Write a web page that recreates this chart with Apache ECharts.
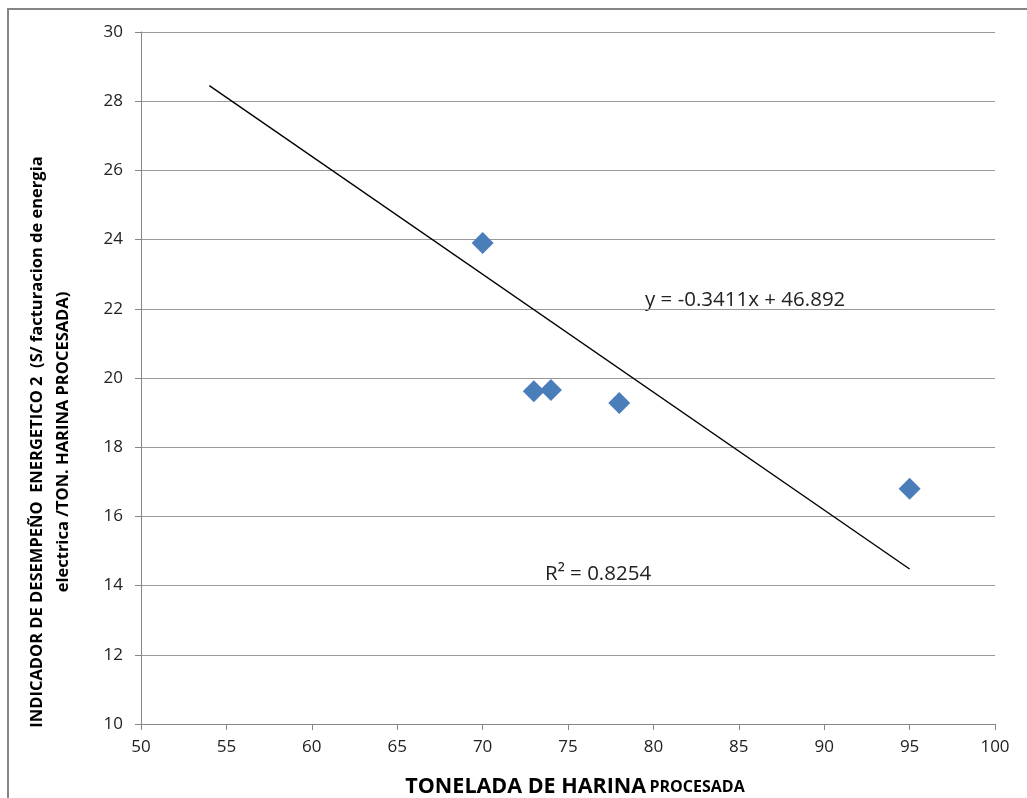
<!DOCTYPE html>
<html>
<head>
<meta charset="utf-8">
<script src="https://cdn.jsdelivr.net/npm/echarts@6/dist/echarts.min.js"></script>
<style>html,body{margin:0;padding:0;background:#fff}#c{width:1027px;height:798px}</style>
</head>
<body>
<div id="c"></div>
<script>
const xValues = [70, 73, 74, 78, 95];
const yValues = [23.9, 19.62, 19.65, 19.28, 16.8];
const trendX = [54, 95];
const trendY = [28.45, 14.48];
const xTicks = [50, 55, 60, 65, 70, 75, 80, 85, 90, 95, 100];
const yTicks = [10, 12, 14, 16, 18, 20, 22, 24, 26, 28, 30];
const equationText = 'y = -0.3411x + 46.892';
const r2Text = 'R² = 0.8254';
const yTitle1 = 'INDICADOR DE DESEMPEÑO  ENERGETICO 2  (S/ facturacion de energia';
const yTitle2 = 'electrica /TON. HARINA PROCESADA)';

const font = '"Open Sans", "Liberation Sans", sans-serif';
const chart = echarts.init(document.getElementById('c'), null, {renderer: 'canvas'});
chart.setOption({
  animation: false,
  backgroundColor: '#fff',
  grid: {left: 141, right: 32, top: 32, bottom: 74},
  xAxis: {
    type: 'value', min: xTicks[0], max: xTicks[xTicks.length - 1], interval: 5,
    axisLine: {lineStyle: {color: '#868686', width: 1}},
    axisTick: {show: true, length: 6, lineStyle: {color: '#868686'}},
    axisLabel: {color: '#222', fontSize: 17, fontFamily: font, margin: 15},
    splitLine: {show: false}
  },
  yAxis: {
    type: 'value', min: yTicks[0], max: yTicks[yTicks.length - 1], interval: 2,
    axisLine: {show: true, lineStyle: {color: '#868686', width: 1}},
    axisTick: {show: true, length: 6, lineStyle: {color: '#868686'}},
    axisLabel: {color: '#222', fontSize: 17, fontFamily: font, margin: 18},
    splitLine: {show: true, lineStyle: {color: '#9a9a9a', width: 1}}
  },
  series: [
    {
      type: 'line',
      data: trendX.map((x, i) => [x, trendY[i]]),
      symbol: 'none',
      lineStyle: {color: '#000', width: 1.4},
      z: 2
    },
    {
      type: 'scatter',
      data: xValues.map((x, i) => [x, yValues[i]]),
      symbol: 'diamond',
      symbolSize: [22, 22],
      itemStyle: {color: '#4A7EBB', opacity: 1},
      z: 3
    }
  ],
  graphic: [
    {type: 'rect', shape: {x: 8, y: 9, width: 1040, height: 820}, style: {fill: 'none', stroke: '#868686', lineWidth: 2}, silent: true},
    {type: 'text', x: 645, y: 300, style: {text: equationText, fontSize: 20.5, fontFamily: font, fill: '#222', verticalAlign: 'middle'}},
    {type: 'text', x: 545, y: 574, style: {text: r2Text, fontSize: 20.5, fontFamily: font, fill: '#222', verticalAlign: 'middle'}},
    {type: 'text', x: 37, y: 442, rotation: Math.PI / 2, style: {text: yTitle1, fontSize: 16.5, fontWeight: 'bold', fontFamily: font, fill: '#000', align: 'center', verticalAlign: 'middle'}},
    {type: 'text', x: 63, y: 442, rotation: Math.PI / 2, style: {text: yTitle2, fontSize: 16.5, fontWeight: 'bold', fontFamily: font, fill: '#000', align: 'center', verticalAlign: 'middle'}},
    {type: 'text', x: 575, y: 787, style: {
      text: '{a|TONELADA DE HARINA} {b|PROCESADA}',
      align: 'center', verticalAlign: 'middle',
      rich: {
        a: {fontSize: 21.5, fontWeight: 'bold', fontFamily: font, color: '#000'},
        b: {fontSize: 16, fontWeight: 'bold', fontFamily: font, color: '#000'}
      }
    }}
  ]
});
</script>
</body>
</html>
